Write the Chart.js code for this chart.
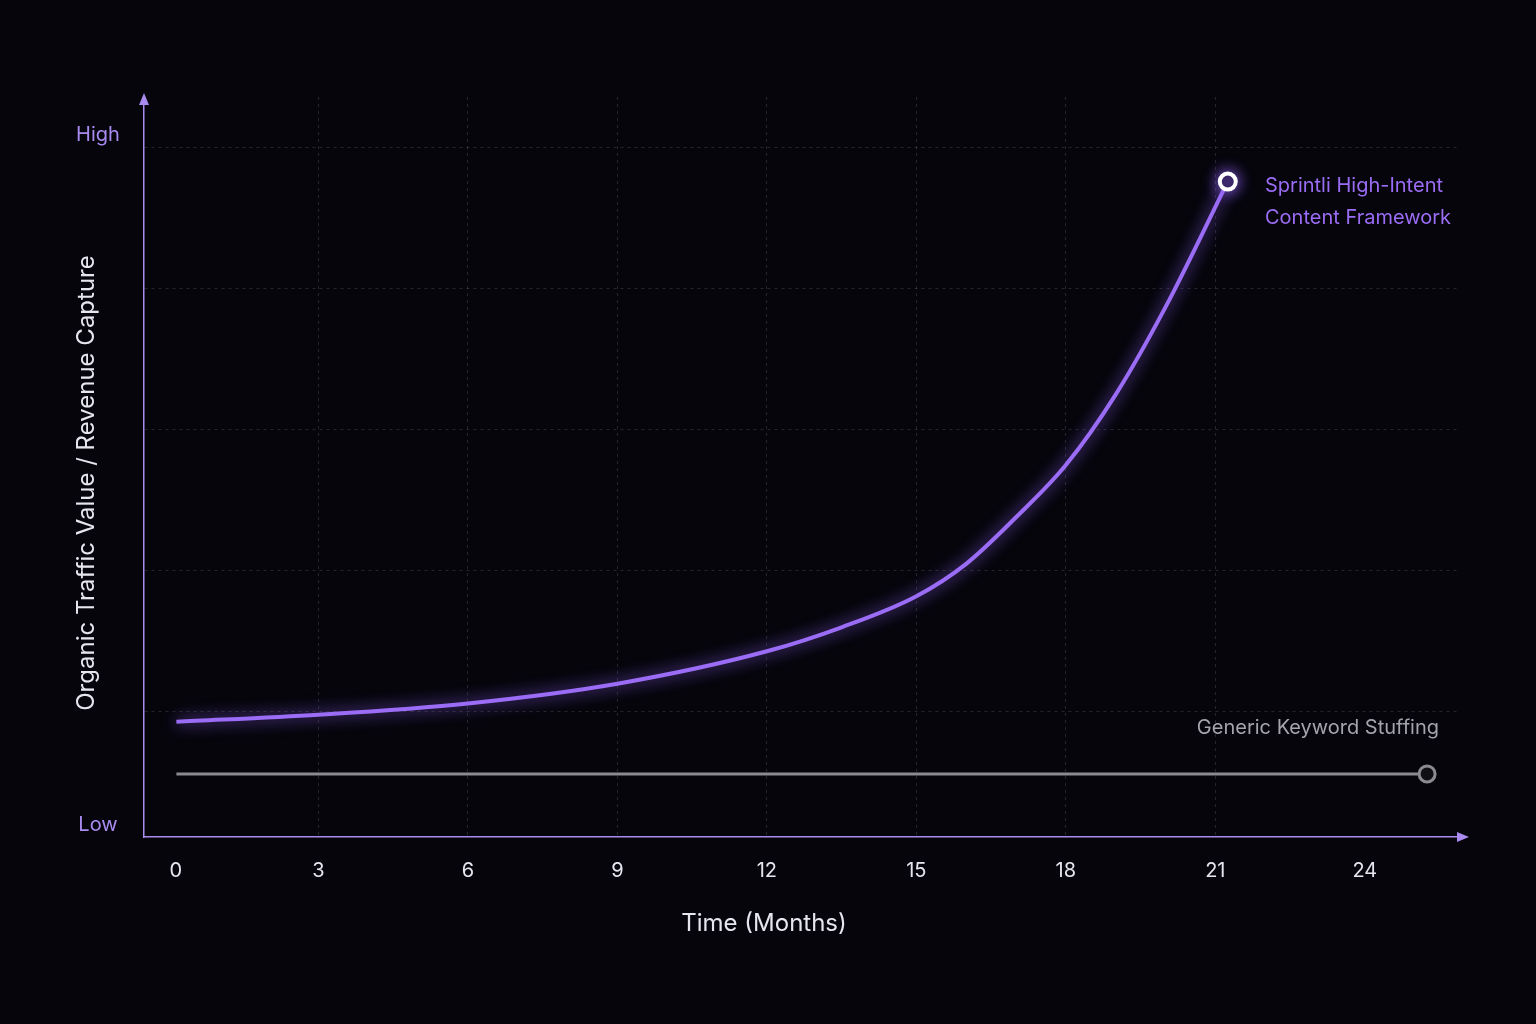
<!DOCTYPE html>
<html><head><meta charset="utf-8">
<script src="https://cdn.jsdelivr.net/npm/chart.js@4"></script>
<style>html,body{margin:0;padding:0;background:#05050b;}#w{width:1536px;height:1024px;}</style>
</head><body><div id="w"><canvas id="c" width="1536" height="1024"></canvas></div>
<script>
const xTicks = [0,3,6,9,12,15,18,21,24];
const sprintliMonths = [0.15,3,6,9,12,13.5,15,16,17,18,19,20,21.25];
const sprintliValues = [-0.07,-0.02,0.06,0.2,0.43,0.6,0.82,1.05,1.38,1.75,2.25,2.87,3.76];
const genericMonths = [0.15,25.25];
const genericValues = [-0.44,-0.44];
const yLabels = ['Low','High'];
const PURPLE='#9b6cf5', LAV='#a98bf0';

const toXY=(xs,ys)=>xs.map((x,i)=>({x,y:ys[i]}));
const deco={id:'deco',
 beforeDatasetDraw(ch,a){const ctx=ch.ctx;ctx.save();if(a.index===0){ctx.shadowColor='rgba(150,100,255,0.95)';ctx.shadowBlur=16;}},
 afterDatasetDraw(ch){ch.ctx.restore();},
 afterDraw(ch){const ctx=ch.ctx,x=ch.scales.x,y=ch.scales.y,ca=ch.chartArea;ctx.save();
  ctx.fillStyle=LAV;
  ctx.beginPath();ctx.moveTo(ca.left,ca.top-4);ctx.lineTo(ca.left-5,ca.top+8);ctx.lineTo(ca.left+5,ca.top+8);ctx.fill();
  ctx.beginPath();ctx.moveTo(ca.right+12,ca.bottom);ctx.lineTo(ca.right,ca.bottom-5);ctx.lineTo(ca.right,ca.bottom+5);ctx.fill();
  ctx.font='20px Inter';ctx.textAlign='center';ctx.textBaseline='middle';
  ctx.fillText(yLabels[1],98,135);ctx.fillText(yLabels[0],98,825);
  ctx.fillStyle='#e6e6ee';
  xTicks.forEach(t=>ctx.fillText(String(t),x.getPixelForValue(t)+(t===0?7:0),871));
  ctx.font='24px Inter';ctx.fillText('Time (Months)',764,924);
  ctx.save();ctx.translate(87,483);ctx.rotate(-Math.PI/2);ctx.fillText('Organic Traffic Value / Revenue Capture',0,0);ctx.restore();
  ctx.font='20px Inter';ctx.textAlign='left';ctx.fillStyle=PURPLE;
  ctx.fillText('Sprintli High-Intent',1265,186);ctx.fillText('Content Framework',1265,218);
  ctx.textAlign='right';ctx.fillStyle='#a4a4ac';ctx.fillText('Generic Keyword Stuffing',1439,728);
  ctx.restore();}};
new Chart(document.getElementById('c'),{type:'line',
 data:{datasets:[
  {data:toXY(sprintliMonths,sprintliValues),borderColor:PURPLE,borderWidth:4,cubicInterpolationMode:'monotone',
   pointRadius:sprintliMonths.map((_,i)=>i===sprintliMonths.length-1?8:0),pointBorderWidth:4,pointBorderColor:'#ffffff',pointBackgroundColor:'#1a1030'},
  {data:toXY(genericMonths,genericValues),borderColor:'#8a8a90',borderWidth:3,
   pointRadius:[0,8],pointBorderWidth:3,pointBorderColor:'#8a8a90',pointBackgroundColor:'#101014'}]},
 options:{responsive:false,animation:false,devicePixelRatio:1,
  layout:{padding:{left:144,right:79,top:97,bottom:187}},
  plugins:{legend:{display:false},tooltip:{enabled:false}},
  scales:{
   x:{type:'linear',min:-0.5,max:25.85,afterBuildTicks:s=>{s.ticks=xTicks.slice(1,8).map(v=>({value:v}));},
     ticks:{display:false},grid:{color:'rgba(255,255,255,0.13)',drawTicks:false},border:{display:true,color:LAV,width:1.5,dash:[3,4]}},
   y:{type:'linear',min:-0.887,max:4.36,afterBuildTicks:s=>{s.ticks=[0,1,2,3,4].map(v=>({value:v}));},
     ticks:{display:false},grid:{color:'rgba(255,255,255,0.13)',drawTicks:false},border:{display:true,color:LAV,width:1.5,dash:[3,4]}}}},
 plugins:[deco]});
</script></body></html>
